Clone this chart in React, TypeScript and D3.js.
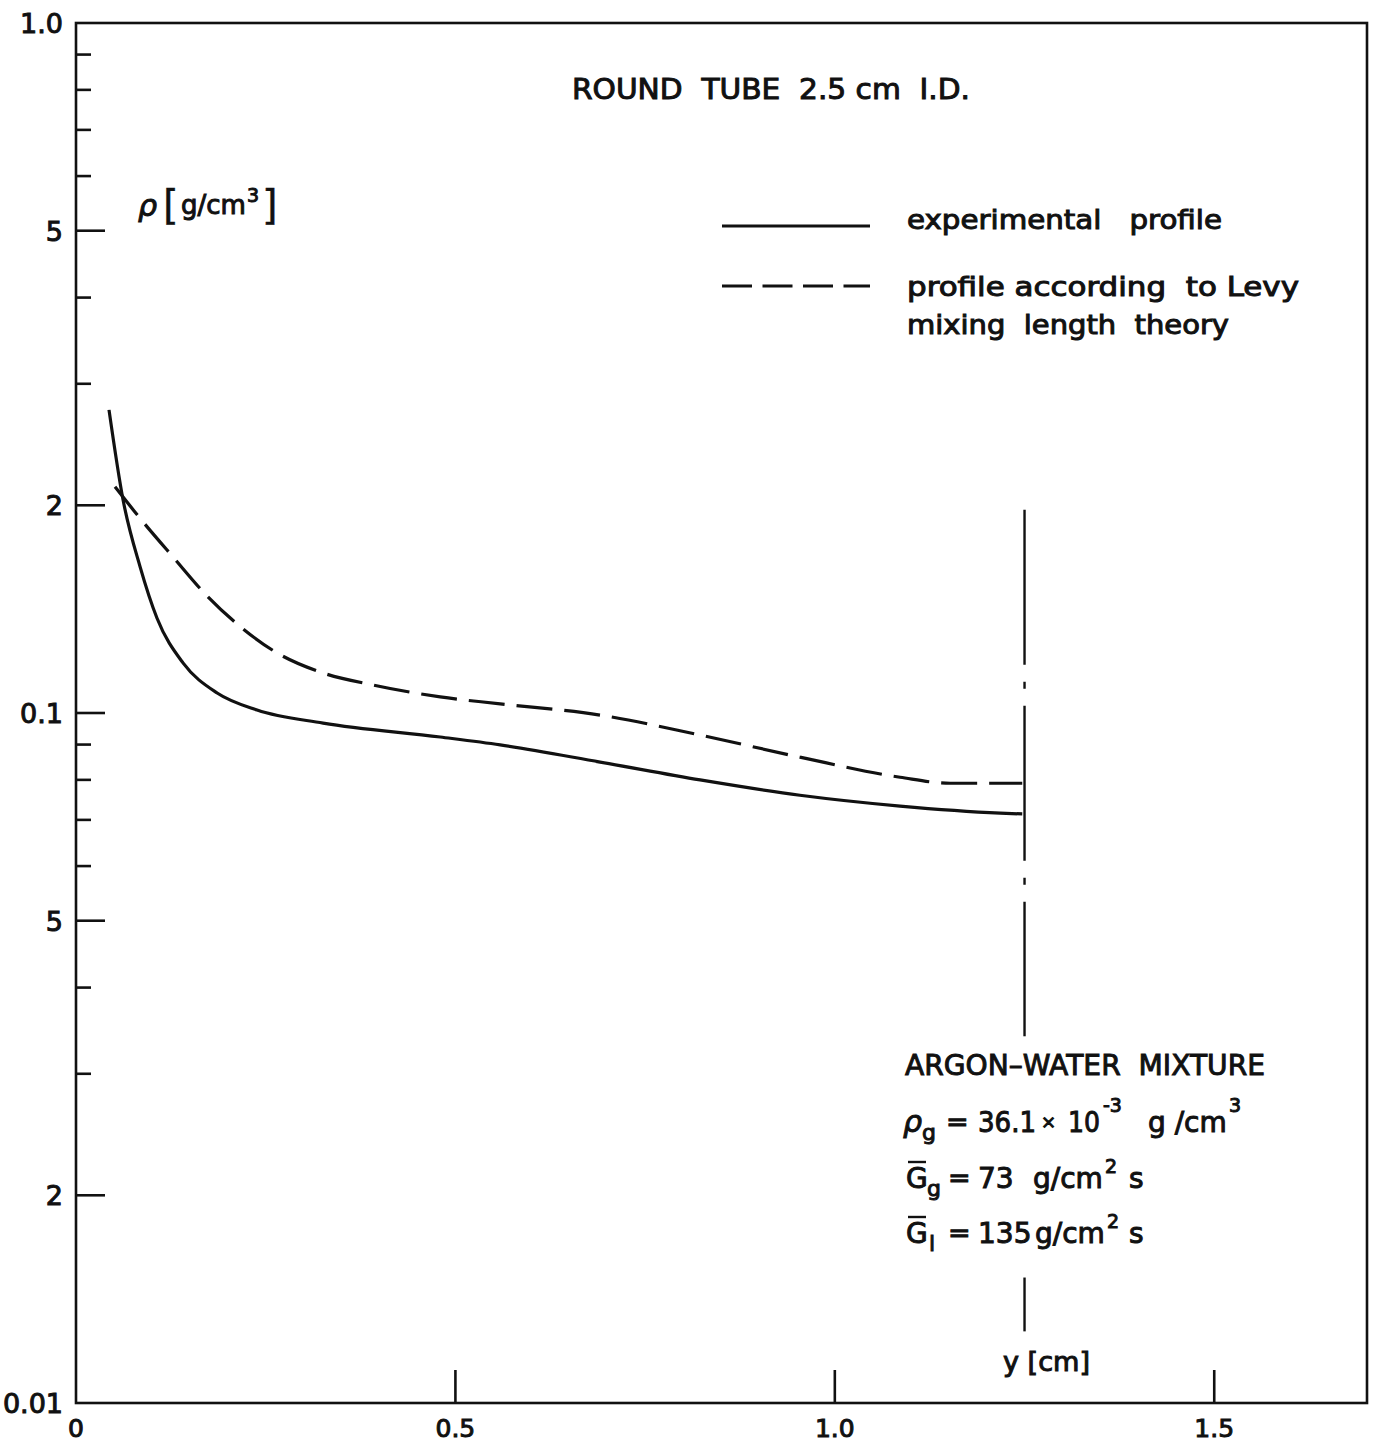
import * as d3 from "d3";

const W = 1378;
const H = 1445;
// frame of the plot
const left = 76;
const right = 1367;
const top = 23;
const bottom = 1403;

// experimental profile, y [cm] vs rho [g/cm3]
const expY = [0.0435, 0.062, 0.0844, 0.1068, 0.141, 0.186, 0.2386, 0.3256, 0.48, 0.559, 0.6907, 0.8225, 0.954, 1.086, 1.218, 1.247];
const expRho = [0.275, 0.2037, 0.163, 0.1372, 0.1182, 0.1069, 0.101, 0.0967, 0.0923, 0.0899, 0.0849, 0.08, 0.076, 0.0733, 0.0716, 0.0714];

// Levy mixing length theory
const levyY = [0.0514, 0.0844, 0.1279, 0.1727, 0.2162, 0.265, 0.3256, 0.3915, 0.48, 0.559, 0.6907, 0.8225, 0.954, 1.086, 1.152, 1.247];
const levyRho = [0.2127, 0.1915, 0.1683, 0.1478, 0.1335, 0.1222, 0.1143, 0.1098, 0.1055, 0.1031, 0.0993, 0.0929, 0.0863, 0.0807, 0.0791, 0.0791];

const yMajor = [0.5, 0.2, 0.1, 0.05, 0.02];
const yLabelValues = [1.0, 0.5, 0.2, 0.1, 0.05, 0.02, 0.01];
const yLabels = ["1.0", "5", "2", "0.1", "5", "2", "0.01"];
const yMinor = [0.9, 0.8, 0.7, 0.6, 0.4, 0.3, 0.09, 0.08, 0.07, 0.06, 0.04, 0.03];
const xTicks = [0.5, 1.0, 1.5];
const xLabelValues = [0, 0.5, 1.0, 1.5];
const xLabels = ["0", "0.5", "1.0", "1.5"];

// tube centre line (radius 1.25 cm), broken by the text block
const tubeRadius = 1.25;
const centreSegs = [
  [0.197, 0.034],
  [0.0152, 0.0127],
];

const font = "'DejaVu Sans', sans-serif";

export default function App() {
  const x = d3.scaleLinear().domain([0, 1.7]).range([left, right - 1]);
  const y = d3.scaleLog().domain([0.01, 1]).range([bottom, top]);

  const line = d3
    .line<[number, number]>()
    .x((d) => x(d[0]))
    .y((d) => y(d[1]))
    .curve(d3.curveMonotoneX);

  const expPath = line(expY.map((v, i) => [v, expRho[i]]));
  const levyPath = line(levyY.map((v, i) => [v, levyRho[i]]));

  const txt = {
    fontFamily: font,
    fill: "#111",
    stroke: "#111",
    strokeWidth: 1,
  };
  const pre = { whiteSpace: "pre" as const };

  return (
    <svg width={W} height={H} style={{ position: "absolute", left: 0, top: 0, background: "#fff" }}>
      <rect width={W} height={H} fill="#fff" />

      {/* frame */}
      <rect x={left} y={top} width={right - left} height={bottom - top} fill="none" stroke="#111" strokeWidth={2.6} />

      {/* ticks */}
      <g stroke="#111" strokeWidth={2.6}>
        {yMajor.map((v) => (
          <line key={"M" + v} x1={left} x2={left + 29} y1={y(v)} y2={y(v)} />
        ))}
        {yMinor.map((v) => (
          <line key={"m" + v} x1={left} x2={left + 15} y1={y(v)} y2={y(v)} />
        ))}
        {xTicks.map((v) => (
          <line key={"x" + v} x1={x(v)} x2={x(v)} y1={bottom} y2={bottom - 33} />
        ))}
      </g>
      <g {...txt} fontSize={27} textAnchor="end">
        {yLabelValues.map((v, i) => (
          <text key={v} x={left - 13} y={y(v) + 10}>
            {yLabels[i]}
          </text>
        ))}
      </g>
      <g {...txt} fontSize={25} textAnchor="middle">
        {xLabelValues.map((v, i) => (
          <text key={v} x={x(v)} y={bottom + 34}>
            {xLabels[i]}
          </text>
        ))}
      </g>

      {/* curves */}
      <path d={levyPath ?? ""} fill="none" stroke="#111" strokeWidth={3.2} strokeDasharray="36 12" />
      <path d={expPath ?? ""} fill="none" stroke="#111" strokeWidth={3.2} />

      {/* centre line */}
      {centreSegs.map((s, i) => (
        <line
          key={i}
          x1={x(tubeRadius)}
          x2={x(tubeRadius)}
          y1={y(s[0])}
          y2={y(s[1])}
          stroke="#111"
          strokeWidth={2.4}
          strokeDasharray={i === 0 ? "155 17 7 17" : undefined}
        />
      ))}

      {/* title */}
      <text {...txt} style={pre} x={572} y={99} fontSize={28} textLength={398} lengthAdjust="spacingAndGlyphs">
        {"ROUND  TUBE  2.5 cm  I.D."}
      </text>

      {/* axis names */}
      <g {...txt}>
        <text x={138} y={216} fontSize={30} fontStyle="italic">ρ</text>
        <text x={163} y={219} fontSize={40} strokeWidth={0.4}>[</text>
        <text x={181} y={214} fontSize={26}>g/cm</text>
        <text x={247} y={202} fontSize={19}>3</text>
        <text x={262} y={219} fontSize={40} strokeWidth={0.4}>]</text>
        <text x={1003} y={1371} fontSize={26} style={pre} textLength={87} lengthAdjust="spacingAndGlyphs">{"y [cm]"}</text>
      </g>

      {/* legend */}
      <line x1={722} x2={870} y1={226} y2={226} stroke="#111" strokeWidth={3.2} />
      <line x1={722} x2={870} y1={286} y2={286} stroke="#111" strokeWidth={3.2} strokeDasharray="30 10.5" />
      <g {...txt} fontSize={26}>
        <text x={907} y={229} style={pre} textLength={315} lengthAdjust="spacingAndGlyphs">{"experimental   profile"}</text>
        <text x={907} y={296} style={pre} textLength={392} lengthAdjust="spacingAndGlyphs">{"profile according  to Levy"}</text>
        <text x={907} y={334} style={pre} textLength={322} lengthAdjust="spacingAndGlyphs">{"mixing  length  theory"}</text>
      </g>

      {/* mixture data */}
      <g {...txt}>
        <text x={905} y={1075} fontSize={29} style={pre} textLength={360} lengthAdjust="spacingAndGlyphs">
          {"ARGON–WATER  MIXTURE"}
        </text>

        <text x={903} y={1132} fontSize={30} fontStyle="italic">ρ</text>
        <text x={922} y={1140} fontSize={22}>g</text>
        <text x={946} y={1131} fontSize={27}>=</text>
        <text x={978} y={1132} fontSize={28} textLength={58} lengthAdjust="spacingAndGlyphs">36.1</text>
        <text x={1041} y={1128} fontSize={18}>×</text>
        <text x={1068} y={1132} fontSize={28} textLength={32} lengthAdjust="spacingAndGlyphs">10</text>
        <text x={1103} y={1112} fontSize={19}>-3</text>
        <text x={1148} y={1132} fontSize={28} style={pre}>{"g /cm"}</text>
        <text x={1229} y={1112} fontSize={19}>3</text>

        <text x={906} y={1188} fontSize={28}>G</text>
        <line x1={908} x2={926} y1={1162} y2={1162} stroke="#111" strokeWidth={2.4} />
        <text x={927} y={1196} fontSize={22}>g</text>
        <text x={948} y={1187} fontSize={27}>=</text>
        <text x={978} y={1188} fontSize={28}>73</text>
        <text x={1033} y={1188} fontSize={28}>g/cm</text>
        <text x={1105} y={1173} fontSize={19}>2</text>
        <text x={1129} y={1188} fontSize={28}>s</text>

        <text x={906} y={1243} fontSize={28}>G</text>
        <line x1={908} x2={926} y1={1217} y2={1217} stroke="#111" strokeWidth={2.4} />
        <text x={929} y={1251} fontSize={22}>l</text>
        <text x={948} y={1242} fontSize={27}>=</text>
        <text x={978} y={1243} fontSize={28}>135</text>
        <text x={1035} y={1243} fontSize={28}>g/cm</text>
        <text x={1107} y={1228} fontSize={19}>2</text>
        <text x={1129} y={1243} fontSize={28}>s</text>
      </g>
    </svg>
  );
}
